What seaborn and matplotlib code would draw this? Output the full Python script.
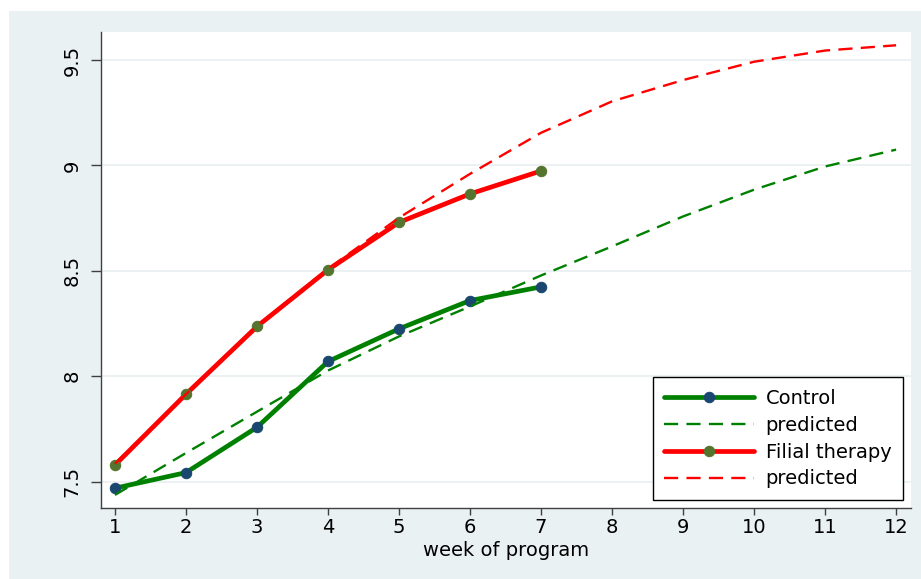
import numpy as np
import pandas as pd
import matplotlib.pyplot as plt
import seaborn as sns
from matplotlib.patches import Rectangle

# observed group means
weeks_obs = [1, 2, 3, 4, 5, 6, 7]
control_obs = [7.469, 7.543, 7.758, 8.070, 8.225, 8.359, 8.424]
filial_obs = [7.579, 7.915, 8.236, 8.505, 8.730, 8.865, 8.974]

# model predictions
weeks_pred = [1, 2, 3, 4, 5, 6, 7, 8, 9, 10, 11, 12]
control_pred = [7.437, 7.636, 7.832, 8.027, 8.189, 8.331, 8.478, 8.616, 8.758, 8.885, 8.995, 9.075]
filial_pred = [7.585, 7.915, 8.240, 8.510, 8.752, 8.960, 9.155, 9.304, 9.405, 9.492, 9.545, 9.570]

ytick_vals = [7.5, 8, 8.5, 9, 9.5]
ytick_labels = ["7.5", "8", "8.5", "9", "9.5"]
xtick_vals = list(range(1, 13))

# colours
bg = "#eaf1f3"
green = "#008000"
red = "#ff0000"
navy = "#1a476f"
olive = "#55752f"

sns.set_theme(style="white")
plt.rcParams["font.family"] = ["DejaVu Sans"]
plt.rcParams["text.color"] = "black"
plt.rcParams["xtick.labelcolor"] = "black"
plt.rcParams["ytick.labelcolor"] = "black"
plt.rcParams["axes.labelcolor"] = "black"

fig = plt.figure(figsize=(9.21, 5.79), dpi=100, facecolor="white")
fig.patches.append(
    Rectangle((9 / 921, 0), 1, 1 - 11 / 579, transform=fig.transFigure,
              facecolor=bg, edgecolor="none", zorder=-10)
)
ax = fig.add_axes([101 / 921, 1 - 508 / 579, (911 - 101) / 921, (508 - 32) / 579])
ax.set_facecolor("white")

dash = (0, (6, 3.5))

sns.lineplot(x=weeks_obs, y=control_obs, ax=ax, color=green, lw=3.4,
             marker="o", markersize=7.5, markerfacecolor=navy,
             markeredgecolor=navy, label="Control")
sns.lineplot(x=weeks_pred, y=control_pred, ax=ax, color=green, lw=1.7,
             linestyle=dash, label="predicted")
sns.lineplot(x=weeks_obs, y=filial_obs, ax=ax, color=red, lw=3.4,
             marker="o", markersize=7.5, markerfacecolor=olive,
             markeredgecolor=olive, label="Filial therapy")
sns.lineplot(x=weeks_pred, y=filial_pred, ax=ax, color=red, lw=1.7,
             linestyle=dash, label="predicted")

ax.set_xlim(0.803, 12.21)
ax.set_ylim(7.375, 9.633)
ax.set_xticks(xtick_vals)
ax.set_yticks(ytick_vals)
ax.set_yticklabels(ytick_labels)

ax.yaxis.grid(True, color=bg, lw=1.3)
ax.xaxis.grid(False)
ax.set_axisbelow(True)

for s in ["top", "right"]:
    ax.spines[s].set_visible(False)
for s in ["left", "bottom"]:
    ax.spines[s].set_color("#404040")
    ax.spines[s].set_linewidth(1.0)

ax.tick_params(axis="x", direction="out", length=5, width=1, color="#404040",
               labelsize=14, pad=2, bottom=True)
ax.tick_params(axis="y", direction="out", length=7, width=1, color="#404040",
               labelsize=14, pad=7, left=True, labelrotation=90)
for lab in ax.get_yticklabels():
    lab.set_va("center")

ax.set_xlabel("week of program", fontsize=14, labelpad=3)
ax.set_ylabel("")

leg = ax.legend(loc="lower right", bbox_to_anchor=(903 / 921, 1 - 500 / 579),
                bbox_transform=fig.transFigure, fontsize=14, frameon=True,
                fancybox=False, edgecolor="black", framealpha=1,
                handlelength=4.6, handletextpad=0.6, labelspacing=0.4,
                borderpad=0.6, borderaxespad=0)
leg.get_frame().set_linewidth(1.0)

plt.savefig("out.png", dpi=100, facecolor="white")
